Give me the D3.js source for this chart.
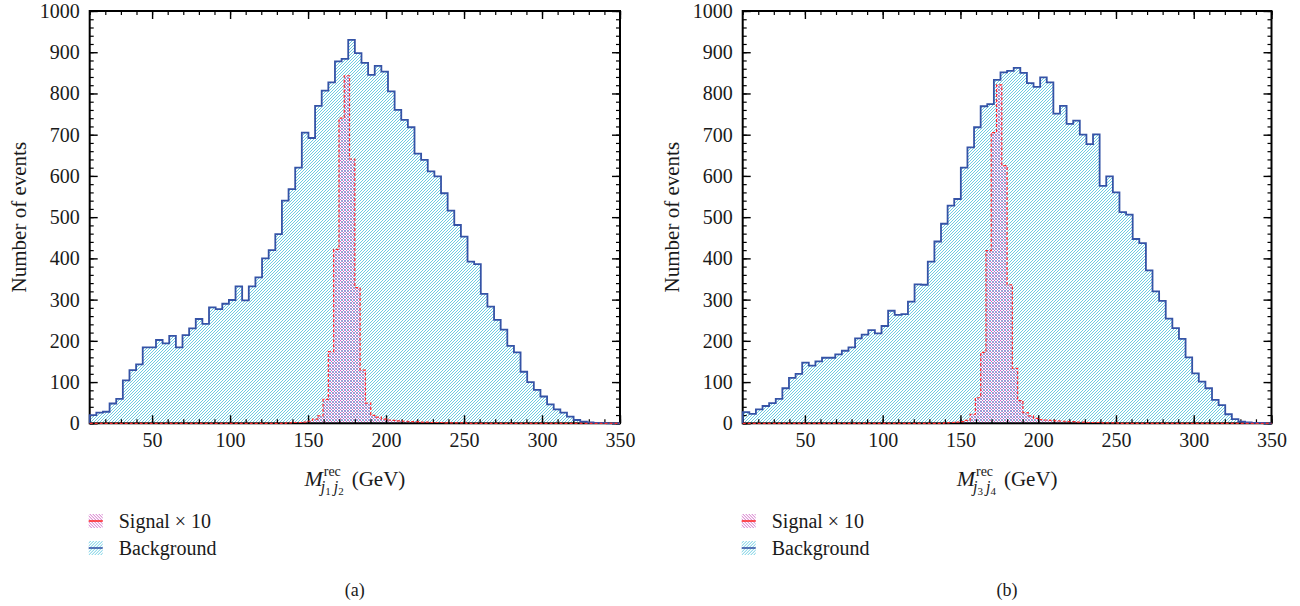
<!DOCTYPE html>
<html>
<head>
<meta charset="utf-8">
<script src="https://cdn.jsdelivr.net/npm/d3@7"></script>
<style>
  html, body { margin: 0; padding: 0; background: #fff; }
  svg { display: block; }
  svg text { font-family: "Liberation Serif", "DejaVu Serif", serif; }
</style>
</head>
<body>
<svg id="chart" width="1300" height="606"></svg>
<script>
// Reconstructed invariant mass range (GeV) and event-count range
const xDomain = [10, 350];
const yDomain = [0, 1000];

// Tick values
const xMajorTicks = [50, 100, 150, 200, 250, 300, 350];
const xMinorTicks = d3.range(10, 351, 10);
const yMajorTicks = [0, 100, 200, 300, 400, 500, 600, 700, 800, 900, 1000];
const yMinorTicks = d3.range(0, 1001, 20);

// Background, 80 bins over the mass range, M(j1 j2)
const backgroundA = [
  20, 26, 28, 48, 59, 104, 129, 143, 184, 184,
  202, 194, 212, 184, 214, 230, 253, 241, 281, 277,
  290, 299, 332, 298, 332, 354, 400, 420, 459, 540,
  568, 620, 705, 692, 770, 807, 827, 878, 884, 930,
  898, 874, 845, 867, 853, 805, 760, 736, 718, 654,
  639, 611, 599, 558, 516, 481, 453, 392, 386, 314,
  283, 251, 227, 188, 172, 125, 100, 81, 65, 46,
  34, 26, 16, 8, 4, 2, 1, 1, 0, 0
];

// Signal (x10), 100 bins over the mass range, M(j1 j2)
const signalA = [
  0, 0, 0, 0, 0, 0, 0, 0, 0, 0,
  0, 0, 0, 0, 0, 0, 0, 0, 0, 0,
  0, 0, 0, 0, 0, 0, 0, 0, 0, 0,
  0, 0, 0, 0, 0, 0, 0, 1, 2, 2,
  3, 5, 10, 18, 58, 174, 422, 740, 843, 641,
  329, 129, 49, 19, 15, 10, 8, 7, 6, 5,
  4, 4, 3, 3, 2, 2, 2, 1, 1, 1,
  1, 0, 0, 0, 0, 0, 0, 0, 0, 0,
  0, 0, 0, 0, 0, 0, 0, 0, 0, 0,
  0, 0, 0, 0, 0, 0, 0, 0, 0, 0
];

// Background, 80 bins over the mass range, M(j3 j4)
const backgroundB = [
  27, 23, 34, 42, 49, 59, 85, 110, 120, 147,
  140, 150, 159, 159, 167, 176, 184, 206, 215, 226,
  218, 236, 273, 263, 265, 295, 337, 336, 392, 441,
  484, 528, 544, 620, 669, 718, 769, 774, 833, 851,
  855, 862, 850, 825, 816, 839, 827, 751, 770, 726,
  734, 700, 677, 701, 576, 599, 560, 512, 506, 447,
  437, 371, 320, 297, 254, 231, 205, 160, 121, 101,
  85, 57, 44, 22, 10, 4, 2, 1, 1, 0
];

// Signal (x10), 100 bins over the mass range, M(j3 j4)
const signalB = [
  0, 0, 0, 0, 0, 0, 0, 0, 0, 0,
  0, 0, 0, 0, 0, 0, 0, 0, 0, 0,
  0, 0, 0, 0, 0, 0, 0, 0, 0, 0,
  0, 0, 0, 0, 0, 0, 0, 0, 1, 2,
  3, 4, 7, 22, 62, 172, 419, 705, 821, 625,
  336, 133, 55, 26, 18, 12, 9, 8, 7, 6,
  5, 4, 4, 3, 3, 2, 2, 2, 1, 1,
  1, 0, 0, 0, 0, 0, 0, 0, 0, 0,
  0, 0, 0, 0, 0, 0, 0, 0, 0, 0,
  0, 0, 0, 0, 0, 0, 0, 0, 0, 0
];

const legendLabels = ["Signal \u00d7 10", "Background"];
const panelLabels = ["(a)", "(b)"];
const jetSubscripts = [["1", "2"], ["3", "4"]];

const FONT = "'Liberation Serif', 'DejaVu Serif', serif";
const COLORS = {
  bgHatch: "#5cc6de",
  bgLine: "#3553a6",
  sigHatch: "#cc5cc0",
  sigLine: "#ff2a2a",
  text: "#1a1a1a"
};

const svg = d3.select("#chart");
const defs = svg.append("defs");

// "/" hatch for the background
const pBg = defs.append("pattern").attr("id", "hatchBg")
  .attr("patternUnits", "userSpaceOnUse").attr("width", 3).attr("height", 3);
pBg.append("path").attr("d", "M0,3 L3,0 M-1,1 L1,-1 M2,4 L4,2")
  .attr("stroke", COLORS.bgHatch).attr("stroke-width", 0.9);

// "\" hatch for the signal
const pSig = defs.append("pattern").attr("id", "hatchSig")
  .attr("patternUnits", "userSpaceOnUse").attr("width", 3).attr("height", 3);
pSig.append("path").attr("d", "M0,0 L3,3 M-1,2 L1,4 M2,-1 L4,1")
  .attr("stroke", COLORS.sigHatch).attr("stroke-width", 0.9);

const panels = [
  { bg: backgroundA, sig: signalA, left: 89.7, right: 620, subs: jetSubscripts[0], label: panelLabels[0] },
  { bg: backgroundB, sig: signalB, left: 742.7, right: 1271.5, subs: jetSubscripts[1], label: panelLabels[1] }
];
const plotTop = 11, plotBottom = 423.3;

// Histogram as step points: (edge_i, v_i) ... closed at both ends on the baseline
function stepPoints(values) {
  const n = values.length;
  const w = (xDomain[1] - xDomain[0]) / n;
  const pts = [[xDomain[0], 0]];
  values.forEach((v, i) => pts.push([xDomain[0] + i * w, v]));
  pts.push([xDomain[1], values[n - 1]]);
  pts.push([xDomain[1], 0]);
  return pts;
}

function label(sel) {
  return sel.attr("font-family", FONT).attr("fill", COLORS.text);
}

panels.forEach(p => {
  const x = d3.scaleLinear().domain(xDomain).range([p.left, p.right]);
  const y = d3.scaleLinear().domain(yDomain).range([plotBottom, plotTop]);
  const g = svg.append("g");

  const area = d3.area().curve(d3.curveStepAfter)
    .x(d => x(d[0])).y0(y(0)).y1(d => y(d[1]));
  const line = d3.line().curve(d3.curveStepAfter)
    .x(d => x(d[0])).y(d => y(d[1]));

  const bgPts = stepPoints(p.bg);
  const sigPts = stepPoints(p.sig);

  g.append("path").attr("d", area(bgPts)).attr("fill", "url(#hatchBg)");
  g.append("path").attr("d", area(sigPts)).attr("fill", "url(#hatchSig)");

  // Frame
  g.append("rect")
    .attr("x", p.left).attr("y", plotTop)
    .attr("width", p.right - p.left).attr("height", plotBottom - plotTop)
    .attr("fill", "none").attr("stroke", "#000").attr("stroke-width", 2);

  // Inward ticks on all four sides
  const axes = [
    { a: () => d3.axisBottom(x), t: `translate(0,${plotBottom})`, labels: true, major: xMajorTicks, minor: xMinorTicks },
    { a: () => d3.axisTop(x), t: `translate(0,${plotTop})`, labels: false, major: xMajorTicks, minor: xMinorTicks },
    { a: () => d3.axisLeft(y), t: `translate(${p.left},0)`, labels: true, major: yMajorTicks, minor: yMinorTicks },
    { a: () => d3.axisRight(y), t: `translate(${p.right},0)`, labels: false, major: yMajorTicks, minor: yMinorTicks }
  ];
  axes.forEach(ax => {
    const gm = g.append("g").attr("transform", ax.t)
      .call(ax.a().tickValues(ax.minor).tickSize(-4).tickFormat(""));
    gm.select(".domain").remove();
    gm.selectAll(".tick line").attr("stroke", "#000").attr("stroke-width", 1.2);
    const gM = g.append("g").attr("transform", ax.t)
      .call(ax.a().tickValues(ax.major).tickSize(-8).tickPadding(10)
        .tickFormat(ax.labels ? d3.format("d") : ""));
    gM.attr("font-family", FONT).attr("font-size", 20);
    gM.select(".domain").remove();
    gM.selectAll(".tick line").attr("stroke", "#000").attr("stroke-width", 1.4);
    label(gM.selectAll(".tick text")).attr("font-size", 20);
  });

  g.append("path").attr("d", line(bgPts))
    .attr("fill", "none").attr("stroke", COLORS.bgLine).attr("stroke-width", 1.8);
  g.append("path").attr("d", line(sigPts))
    .attr("fill", "none").attr("stroke", COLORS.sigLine).attr("stroke-width", 1.2)
    .attr("stroke-dasharray", "3,2");

  // Y axis title
  label(svg.append("text"))
    .attr("transform", `translate(${p.left - 71},${(plotTop + plotBottom) / 2}) rotate(-90)`)
    .attr("text-anchor", "middle").attr("dy", "0.35em")
    .attr("font-size", 21)
    .text("Number of events");

  // X axis title: M^rec_{j j} (GeV)
  const cx = (p.left + p.right) / 2;
  const base = 486;
  const t = svg.append("g");
  const M = label(t.append("text")).attr("x", 0).attr("y", base)
    .attr("font-style", "italic").attr("font-size", 22).text("M");
  const wM = M.node().getComputedTextLength();
  const sup = label(t.append("text")).attr("x", wM + 1).attr("y", base - 10)
    .attr("font-size", 14).text("rec");
  const sub = label(t.append("text")).attr("x", wM - 2).attr("y", base + 6).attr("font-size", 16);
  sub.append("tspan").attr("font-style", "italic").text("j");
  sub.append("tspan").attr("dy", 3).attr("font-size", 11).text(p.subs[0]);
  sub.append("tspan").attr("dy", -3).attr("dx", 3).attr("font-style", "italic").text("j");
  sub.append("tspan").attr("dy", 3).attr("font-size", 11).text(p.subs[1]);
  const wScript = Math.max(sup.node().getComputedTextLength() + 1, sub.node().getComputedTextLength() + 1);
  const gev = label(t.append("text")).attr("x", wM + wScript + 8).attr("y", base)
    .attr("font-size", 21).text("(GeV)");
  const total = wM + wScript + 8 + gev.node().getComputedTextLength();
  t.attr("transform", `translate(${cx - total / 2},0)`);

  // Legend
  const legend = svg.append("g").attr("transform", `translate(${p.left - 1},0)`);
  const rows = [
    { fill: "url(#hatchSig)", stroke: COLORS.sigLine, cy: 521, text: legendLabels[0] },
    { fill: "url(#hatchBg)", stroke: COLORS.bgLine, cy: 548, text: legendLabels[1] }
  ];
  rows.forEach(r => {
    legend.append("rect").attr("x", 0).attr("y", r.cy - 7).attr("width", 14).attr("height", 14)
      .attr("fill", r.fill);
    legend.append("line").attr("x1", 0).attr("x2", 14).attr("y1", r.cy).attr("y2", r.cy)
      .attr("stroke", r.stroke).attr("stroke-width", 1.6);
    label(legend.append("text")).attr("x", 30).attr("y", r.cy).attr("dy", "0.35em")
      .attr("font-size", 20).text(r.text);
  });

  // Panel label
  label(svg.append("text")).attr("x", cx).attr("y", 590).attr("dy", "0.35em")
    .attr("text-anchor", "middle").attr("font-size", 18)
    .text(p.label);
});
</script>
</body>
</html>
